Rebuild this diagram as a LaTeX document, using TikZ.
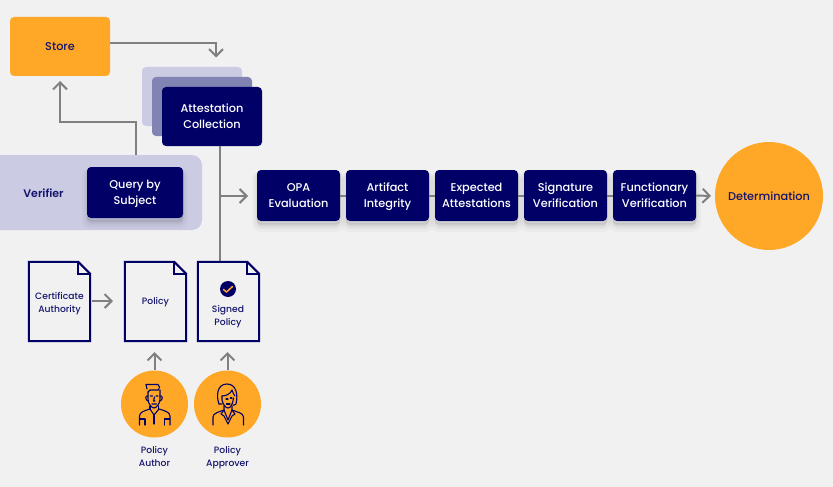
\documentclass[tikz,border=0pt]{standalone}
\usepackage{fontspec}
\setmainfont{Poppins}[UprightFont=* Medium,BoldFont=* SemiBold]
\usetikzlibrary{arrows.meta,calc}
\definecolor{navy}{HTML}{000066}
\definecolor{ink}{HTML}{14146E}
\definecolor{amber}{HTML}{FFA726}
\definecolor{lilac}{HTML}{CBCCE3}
\definecolor{lilacmid}{HTML}{8183B3}
\definecolor{arrowgrey}{HTML}{808080}
\definecolor{paper}{HTML}{F1F1F1}
\newcommand{\twolines}[2]{\vphantom{Ayg}#1\\\vphantom{Ayg}#2}
\newcommand{\darklines}[2]{\vphantom{Ayg}\smash{\raisebox{-2pt}{#1}}\\\vphantom{Ayg}\smash{\raisebox{-2pt}{#2}}}
\tikzset{
  softshadow/.style={
    preaction={draw=black,fill=black,draw opacity=.025,fill opacity=.025,line width=10pt,transform canvas={yshift=-6pt}},
    preaction={draw=black,fill=black,draw opacity=.03,fill opacity=.03,line width=6pt,transform canvas={yshift=-5pt}},
    preaction={draw=black,fill=black,draw opacity=.04,fill opacity=.04,line width=2pt,transform canvas={yshift=-3pt}}},
  darkbox/.style={fill=navy,text=white,rounded corners=4pt,inner sep=0pt,align=center,font=\fontsize{11.3}{16}\selectfont},
  stepbox/.style={darkbox,softshadow,minimum width=83pt,minimum height=51pt},
  stackbox/.style={rounded corners=4pt,inner sep=0pt,minimum width=100pt,minimum height=59pt},
  conn/.style={draw=arrowgrey,line width=2pt},
  arr/.style={conn,-{Straight Barb[length=7pt,width=14pt,line width=2pt]}},
  docbox/.style={inner sep=0pt,minimum width=61pt,minimum height=79pt,align=center,text=ink,font=\fontsize{9.2}{13}\selectfont},
  docline/.style={draw=navy,line width=2pt,line join=miter},
  doctext/.style={inner sep=0pt,align=center,text=ink,font=\fontsize{9.2}{13}\selectfont},
  person/.style={circle,fill=amber,inner sep=0pt,minimum size=67pt},
  icon/.style={draw=navy,line width=1.1pt,line cap=round,line join=round},
  caption/.style={align=center,text=ink,font=\fontsize{9.2}{13}\selectfont,inner sep=0pt}
}
\newcommand{\docoutline}[1]{%
  \draw[docline] (#1.north west) -- ($(#1.north east)+(-12,0)$) -- ($(#1.north east)+(0,12)$) -- (#1.south east) -- (#1.south west) -- cycle;
  \draw[docline] ($(#1.north east)+(-12,0)$) -- ($(#1.north east)+(-12,12)$) -- ($(#1.north east)+(0,12)$);}
\begin{document}
\begin{tikzpicture}[x=1pt,y=-1pt]
\useasboundingbox[fill=paper] (0,0) rectangle (833,487);
% Back panels
\node[stackbox,fill=lilac] (stackA) at (192,96.5) {};
\node[stackbox,fill=lilacmid] (stackB) at (202,106.5) {};
\path[fill=lilac] (0,155) -- (192,155) arc[start angle=-90,end angle=0,radius=10] -- (202,220) arc[start angle=0,end angle=90,radius=10] -- (0,230) -- cycle;
\node[inner sep=0pt,text=ink,font=\fontsize{11}{14}\selectfont\bfseries] (verifier) at (43.5,193) {Verifier};
\coordinate (verifiertop) at (136,155);
% Boxes
\node[stackbox,fill=amber,text=ink,font=\fontsize{11.3}{14}\selectfont] (store) at (60,46.5) {Store};
\node[darkbox,minimum width=100pt,minimum height=59pt] (collect) at (212,116.5) {\darklines{Attestation}{Collection}};
\node[darkbox,softshadow,minimum width=96pt,minimum height=51pt] (query) at (135,192.5) {\darklines{Query by}{Subject}};
\coordinate (storeout) at (110,43);
\coordinate (storein) at (216,57.5);
\coordinate (collectout) at (220,146);
\coordinate (signedin) at (220,261);
\coordinate (branch) at (220,196);
\coordinate (branchend) at (248,196);
\coordinate (storebot) at (60,81);
\draw[arr] (storeout) -| (storein);
\draw[arr] (verifiertop) |- (60,122) -- (storebot);
\draw[conn] (collectout) -- (signedin);
\draw[arr] (branch) -- (branchend);
% Steps
\node[stepbox] (opa) at (298.5,195.5) {\darklines{OPA}{Evaluation}};
\node[stepbox] (artifact) at (387.5,195.5) {\darklines{Artifact}{Integrity}};
\node[stepbox] (expected) at (476.5,195.5) {\darklines{Expected}{Attestations}};
\node[stepbox] (signature) at (565.5,195.5) {\darklines{Signature}{Verification}};
\node[stepbox] (functional) at (654.5,195.5) {\darklines{Functionary}{Verification}};
\node[circle,fill=amber,inner sep=0pt,minimum size=108pt,text=ink,font=\fontsize{11.3}{14}\selectfont] (determination) at (769,196) {Determination};
\coordinate (detin) at (711,196);
\draw[conn] (opa.east) -- (artifact.west);
\draw[conn] (artifact.east) -- (expected.west);
\draw[conn] (expected.east) -- (signature.west);
\draw[conn] (signature.east) -- (functional.west);
\draw[arr] (functional.east) -- (detin);
% Documents
\node[docbox] (ca) at (59.5,301.5) {};
\node[doctext] (catext) at (59.5,304) {\twolines{Certificate}{Authority}};
\node[docbox] (policy) at (155.5,301.5) {};
\node[doctext] (policytext) at (155.5,302) {Policy};
\node[docbox] (signed) at (228.5,301.5) {};
\node[doctext] (signedtext) at (228,316.5) {\twolines{Signed}{Policy}};
\docoutline{ca}
\docoutline{policy}
\docoutline{signed}
\node[circle,fill=navy,inner sep=0pt,minimum size=16pt] (badge) at (228,289) {};
\draw[draw=amber,line width=1.5pt,line cap=round,line join=round] (223.5,289.5) -- (226.5,292) -- (232.5,286.5);
\coordinate (caout) at (92,301);
\coordinate (policyin) at (113,301);
\draw[arr] (caout) -- (policyin);
% People
\node[person] (author) at (154.5,404) {};
\node[person] (approver) at (227.5,404) {};
\coordinate (policybot) at (154.5,352);
\coordinate (signedbot) at (227.5,352);
\draw[arr] (author.north) -- (policybot);
\draw[arr] (approver.north) -- (signedbot);
% Author icon
\draw[icon] (147,389) -- (146,384.5) -- (158,384.5) -- (159.5,387) -- (158.5,390) -- (150,390) -- (148,392);
\draw[icon] (148,392) -- (148,399) .. controls (148,404) and (152,408) .. (154,408) .. controls (156,408) and (160,404) .. (160,399) -- (160,390);
\draw[icon] (148,396) .. controls (145,395) and (145,400) .. (148,401);
\draw[icon] (160,396) .. controls (163,395) and (163,400) .. (160,401);
\draw[icon] (150.5,396) -- (152.5,396) (156,396) -- (158,396) (154.5,397) -- (153.5,401) -- (155,401) (152,404) -- (156.5,404);
\draw[icon] (139.5,425) -- (139.5,416) .. controls (139.5,412) and (145,410.5) .. (150,409) -- (154,415) -- (159,409) .. controls (164,410.5) and (170,412) .. (170,416) -- (170,425);
\draw[icon] (139.5,419) -- (145,419) -- (145,425) (170,419) -- (164.5,419) -- (164.5,425) (154,415) -- (154,424) (150,409) -- (150,406) (158.5,409) -- (158.5,406);
% Approver icon
\draw[icon] (219,404) .. controls (216,396) and (217,384) .. (227,384) .. controls (237,384) and (238,396) .. (236,404) .. controls (234,406) and (233,405) .. (233,405);
\draw[icon] (219,404) -- (222,404) (222,396) .. controls (227,396) and (231,393) .. (232,390) .. controls (233,393) and (234,395) .. (235,396);
\draw[icon] (222,396) -- (222,400) .. controls (223,405) and (226,408) .. (228,408) .. controls (231,408) and (233,403) .. (233.5,398);
\draw[icon] (226,399) -- (228,399) (230.5,398) -- (232,398) (226.5,404) -- (230,404);
\draw[icon] (213,425) -- (213,417) .. controls (213,413) and (219,412) .. (224,410) -- (228,420) -- (232,410) .. controls (237,412) and (243.5,413) .. (243.5,417) -- (243.5,425);
\draw[icon] (224,410) -- (221,414) -- (224,416) -- (228,424) -- (232,416) -- (235,414) -- (232,410) (224,410) -- (224,406) (232,410) -- (232,406);
% Captions
\node[caption] (authorlabel) at (154.5,457.3) {\twolines{Policy}{Author}};
\node[caption] (approverlabel) at (227.5,457.3) {\twolines{Policy}{Approver}};
\end{tikzpicture}
\end{document}
